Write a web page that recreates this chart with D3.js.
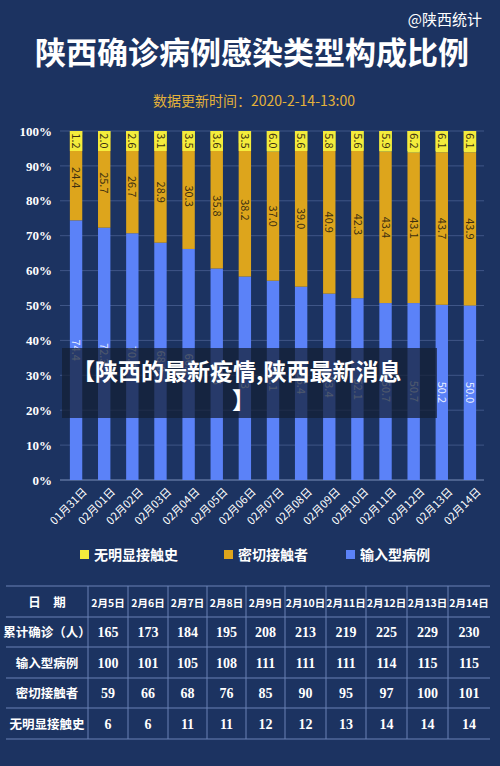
<!DOCTYPE html>
<html><head><meta charset="utf-8">
<script src="https://cdn.jsdelivr.net/npm/d3@7"></script>
<style>body{margin:0;background:#1c3361;}svg{display:block}</style></head>
<body><svg id="c" width="500" height="766"></svg>
<script>
const dates=["01月31日","02月01日","02月02日","02月03日","02月04日","02月05日","02月06日","02月07日","02月08日","02月09日","02月10日","02月11日","02月12日","02月13日","02月14日"];
const noContact=[1.2,2.0,2.6,3.1,3.5,3.6,3.5,6.0,5.6,5.8,5.6,5.9,6.2,6.1,6.1];
const closeContact=[24.4,25.7,26.7,28.9,30.3,35.8,38.2,37.0,39.0,40.9,42.3,43.4,43.1,43.7,43.9];
const imported=[74.4,72.3,70.7,68.0,66.2,60.6,58.3,57.1,55.4,53.4,52.1,50.7,50.7,50.2,50.0];
const yTicks=[0,10,20,30,40,50,60,70,80,90,100];
const tableHeader=["日　期","2月5日","2月6日","2月7日","2月8日","2月9日","2月10日","2月11日","2月12日","2月13日","2月14日"];
const rowNames=["累计确诊（人）","输入型病例","密切接触者","无明显接触史"];
const rowTotal=[165,173,184,195,208,213,219,225,229,230];
const rowImported=[100,101,105,108,111,111,111,114,115,115];
const rowClose=[59,66,68,76,85,90,95,97,100,101];
const rowNone=[6,6,11,11,12,12,13,14,14,14];

const svg=d3.select("#c");
const F="'Noto Sans CJK SC',sans-serif";
const S="'Liberation Serif',serif";
const C={imp:"#5b82f8",close:"#dda51c",none:"#f4ec3c"};

svg.append("text").attr("x",482).attr("y",25).attr("text-anchor","end").attr("fill","#fff").attr("font-family",F).attr("font-size",15).text("@陕西统计");
svg.append("text").attr("x",252).attr("y",64).attr("text-anchor","middle").attr("fill","#fff").attr("font-family",F).attr("font-weight","bold").attr("font-size",31).text("陕西确诊病例感染类型构成比例");
svg.append("text").attr("x",254).attr("y",106).attr("text-anchor","middle").attr("fill","#e4b23a").attr("font-family",F).attr("font-size",14).text("数据更新时间：2020-2-14-13:00");

const x=d3.scaleBand().domain(dates).range([62,484]).paddingInner(0.56).paddingOuter(0.28);
const y=d3.scaleLinear().domain([0,100]).range([480,131]);

const g=svg.append("g");
g.selectAll(".grid").data(yTicks).join("line").attr("x1",60).attr("x2",484).attr("y1",d=>y(d)).attr("y2",d=>y(d)).attr("stroke","#3f5687").attr("stroke-width",1);
g.append("line").attr("x1",60).attr("x2",484).attr("y1",y(0)).attr("y2",y(0)).attr("stroke","#6b7fa8");
const ya=svg.append("g").attr("transform","translate(55,0)").call(d3.axisLeft(y).tickValues(yTicks).tickFormat(d=>d+"%").tickSize(0));
ya.select(".domain").remove();
ya.selectAll("text").attr("fill","#fff").attr("font-family",S).attr("font-weight","bold").attr("font-size",13);

const data=dates.map((d,i)=>({d,imp:imported[i],close:closeContact[i],none:noContact[i]}));
const stack=d3.stack().keys(["imp","close","none"])(data);
stack.forEach(layer=>{
  svg.append("g").selectAll("rect").data(layer).join("rect")
   .attr("x",d=>x(d.data.d)).attr("width",x.bandwidth())
   .attr("y",d=>y(Math.min(d[1],100))).attr("height",d=>y(d[0])-y(Math.min(d[1],100)))
   .attr("fill",C[layer.key]);
});
svg.append("g").selectAll("rect").data(stack[2]).join("rect")
  .attr("x",d=>x(d.data.d)).attr("width",x.bandwidth()).attr("y",y(100)).attr("height",20).attr("fill",C.none);
stack.forEach(layer=>{
  svg.append("g").selectAll("text").data(layer).join("text")
   .attr("transform",d=>{const cy=layer.key==="none"?y(100)+10:(y(d[0])+y(Math.min(d[1],100)))/2;return `translate(${x(d.data.d)+x.bandwidth()/2},${cy}) rotate(90)`;})
   .attr("fill",layer.key==="imp"?"#e8eeff":"#3d3010").attr("font-family",F).attr("font-size",11)
   .attr("text-anchor","middle").attr("dy","0.35em")
   .text(d=>d.data[layer.key].toFixed(1));
});

const xa=svg.append("g").attr("transform","translate(0,481)").call(d3.axisBottom(x).tickSize(0));
xa.select(".domain").remove();
xa.selectAll("text").attr("fill","#fff").attr("font-family",F).attr("font-size",11)
  .attr("text-anchor","end").attr("transform","translate(4,4) rotate(-45)").attr("dy","0.7em").attr("dx","0");

const legend=[["无明显接触史",C.none,80],["密切接触者",C.close,224],["输入型病例",C.imp,346]];
legend.forEach(([t,c,lx])=>{
  svg.append("rect").attr("x",lx).attr("y",550).attr("width",9).attr("height",9).attr("fill",c);
  svg.append("text").attr("x",lx+14).attr("y",560).attr("fill","#fff").attr("font-family",F).attr("font-weight","bold").attr("font-size",14).text(t);
});

const rows=[tableHeader,[rowNames[0],...rowTotal],[rowNames[1],...rowImported],[rowNames[2],...rowClose],[rowNames[3],...rowNone]];
const colX=[6,88,128,168,207,246,285,326,366,407,448,490];
const rowY=[586,617,647,678,708,739];
const tg=svg.append("g");
rowY.forEach(ry=>tg.append("line").attr("x1",6).attr("x2",490).attr("y1",ry).attr("y2",ry).attr("stroke","#6a82b6"));
colX.slice(1,-1).forEach(cx=>tg.append("line").attr("x1",cx).attr("x2",cx).attr("y1",586).attr("y2",739).attr("stroke","#6a82b6"));
rows.forEach((r,ri)=>{
  r.forEach((v,ci)=>{
    tg.append("text").attr("x",(colX[ci]+colX[ci+1])/2).attr("y",(rowY[ri]+rowY[ri+1])/2+5)
      .attr("text-anchor","middle").attr("fill","#fff").attr("font-weight","bold")
      .attr("font-family",ri===0||ci===0?F:S).attr("font-size",ri===0&&ci>0?10.5:(ci===0?12.5:14)).text(v);
  });
});

svg.append("rect").attr("x",62).attr("y",348).attr("width",375).attr("height",70).attr("fill","#141e33").attr("opacity",0.72);
svg.append("text").attr("x",72).attr("y",380).attr("fill","#fff").attr("font-family",F).attr("font-weight","bold").attr("font-size",23).text("【陕西的最新疫情,陕西最新消息");
svg.append("text").attr("x",232).attr("y",409).attr("fill","#fff").attr("font-family",F).attr("font-weight","bold").attr("font-size",23).text("】");
</script></body></html>
